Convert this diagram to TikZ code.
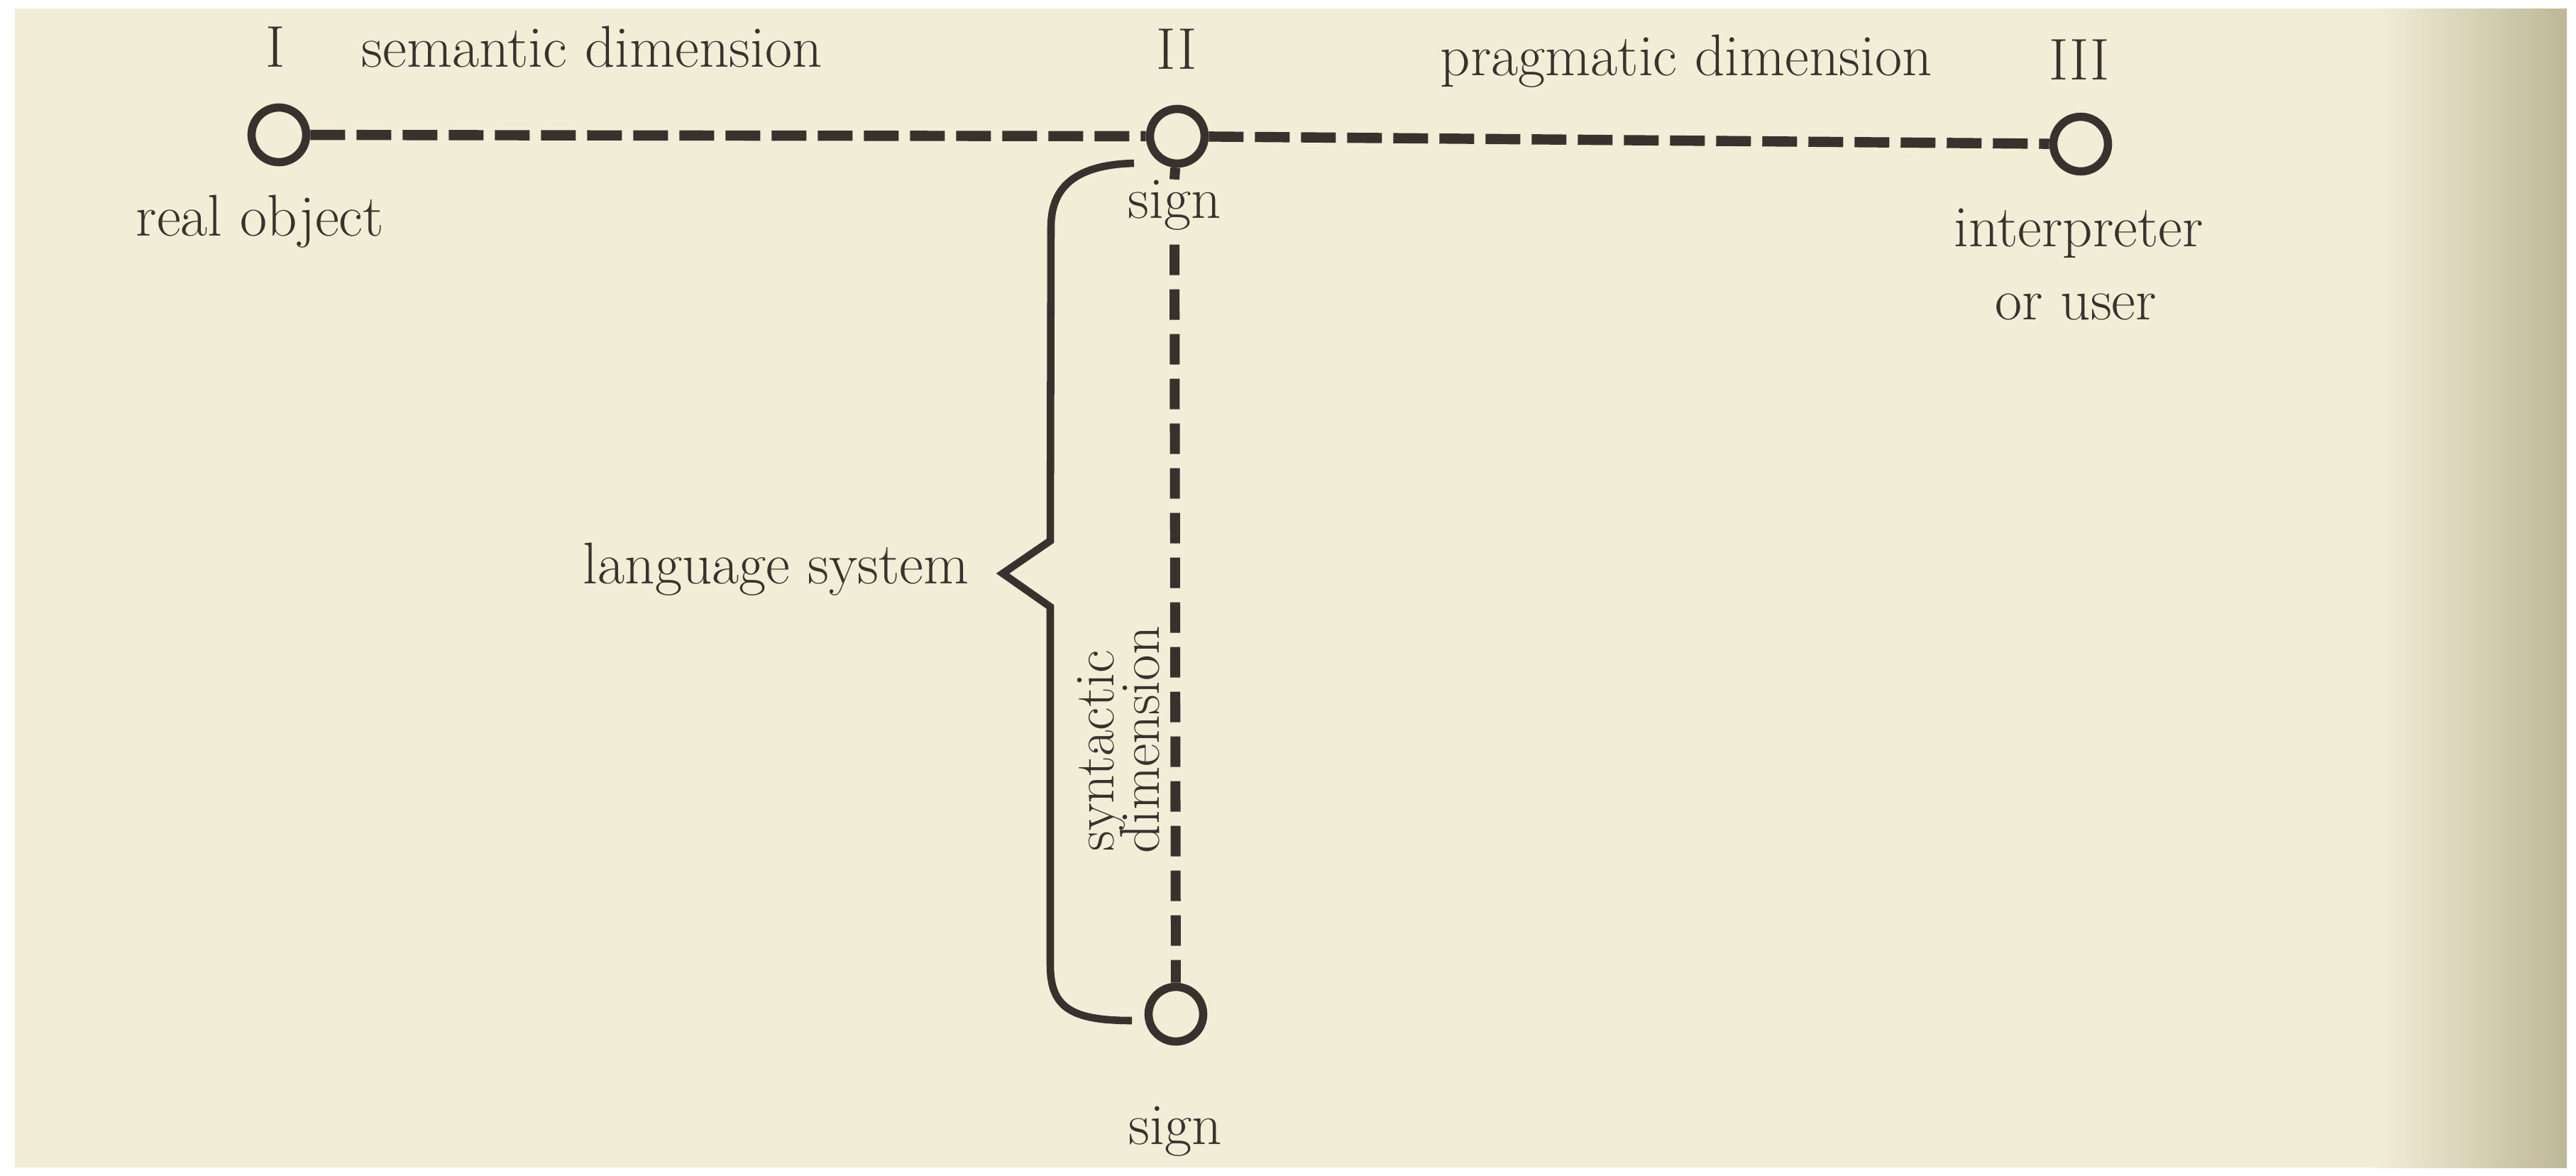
\documentclass[tikz,border=0pt]{standalone}
\usepackage{tikz}
\definecolor{paper}{RGB}{242,237,214}
\definecolor{gutter}{RGB}{190,183,151}
\definecolor{ink}{RGB}{55,50,45}
\newcommand{\labelfont}{\fontsize{23.6}{28}\selectfont}
\newcommand{\sidefont}{\fontsize{22.6}{27}\selectfont}
\tikzset{
    pole/.style={circle, draw=ink, line width=3.3pt, minimum size=0.77cm, inner sep=0pt},
    dimline/.style={draw=ink, line width=4.1pt, dash pattern=on 0.49cm off 0.16cm},
    synline/.style={draw=ink, line width=4.0pt, dash pattern=on 0.43cm off 0.20cm},
    stub/.style={draw=ink, line width=4.0pt},
    lbl/.style={text=ink, inner sep=0pt, font=\labelfont},
    sidelbl/.style={text=ink, inner sep=0pt, font=\sidefont, rotate=90, anchor=base west},
    bracket/.style={draw=ink, line width=3.0pt, line join=miter}
}

\begin{document}
\begin{tikzpicture}
    \useasboundingbox (0,0) rectangle (36.30,-16.56);
    \fill[white] (0,0) rectangle (36.30,-16.56);
    \fill[paper] (0.21,-0.12) rectangle (33.51,-16.45);
    \shade[left color=paper, right color=gutter] (33.50,-0.12) rectangle (36.17,-16.45);

    \node[pole] (obj) at (3.93,-1.90) {};
    \node[pole] (sgn) at (16.59,-1.92) {};
    \node[pole] (usr) at (29.32,-2.03) {};
    \node[pole] (bot) at (16.57,-14.29) {};

    \node[lbl, anchor=base] (one) at (3.88,-0.94) {I};
    \node[lbl, anchor=base west] (sem) at (5.09,-0.94) {semantic dimension};
    \node[lbl, anchor=base] (two) at (16.58,-0.97) {II};
    \node[lbl, anchor=base west] (prag) at (20.29,-1.06) {pragmatic dimension};
    \node[lbl, anchor=base] (three) at (29.30,-1.12) {III};

    \node[lbl, anchor=base west] (real) at (1.91,-3.32) {real object};
    \node[lbl, anchor=base] (signtop) at (16.55,-3.07) {sign};
    \node[lbl, anchor=base] (interp) at (29.29,-3.47) {interpreter};
    \node[lbl, anchor=base] (oruser) at (29.25,-4.50) {or user};
    \node[lbl, anchor=base east] (langsys) at (13.66,-8.22) {language system};
    \node[lbl, anchor=base] (signbot) at (16.56,-16.12) {sign};

    \node[sidelbl] (synt) at (15.69,-12.00) {syntactic};
    \node[sidelbl] (dimn) at (16.33,-12.03) {dimension};

    \draw[dimline] (obj) -- (sgn);
    \draw[dimline] (sgn) -- (usr);
    \draw[stub] (sgn) -- (signtop.north);
    \draw[synline, shorten <=0.2cm] (signtop.south) -- (bot);

    \draw[bracket] (15.98,-2.30) .. controls (15.20,-2.32) and (14.81,-2.60) .. (14.81,-3.20)
        -- (14.80,-7.62) -- (14.13,-8.08) -- (14.80,-8.55) -- (14.80,-13.60)
        .. controls (14.80,-14.20) and (15.10,-14.38) .. (15.95,-14.38);
\end{tikzpicture}
\end{document}
